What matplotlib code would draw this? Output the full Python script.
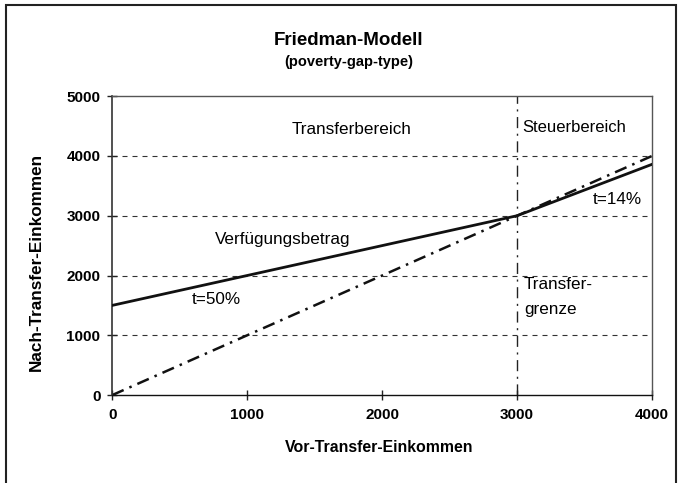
import matplotlib
matplotlib.use("Agg")
import matplotlib.pyplot as plt
from matplotlib.patches import Rectangle

plt.rcParams['font.family'] = ['Liberation Sans', 'DejaVu Sans']

# Data
vor_einkommen = [0, 3000, 4000]
verfuegung = [1500, 3000, 3860]
diag_x = [0, 4000]
diag_y = [0, 4000]
transfergrenze = 3000
x_ticks = [0, 1000, 2000, 3000, 4000]
y_ticks = [0, 1000, 2000, 3000, 4000, 5000]

fig = plt.figure(figsize=(6.8, 4.83), dpi=100)
ax = fig.add_axes([0.165, 0.182, 0.794, 0.619])

# outer border (bottom edge lies outside the visible area)
fig.patches.append(Rectangle((0.009, -0.05), 0.985, 1.04, transform=fig.transFigure,
                             fill=False, edgecolor='#222222', linewidth=1.5))

# grid lines
for yv in y_ticks[1:-1]:
    ax.axhline(yv, color='#333333', linestyle=(0, (4.5, 4.5)), linewidth=0.8, zorder=1)

ax.plot(diag_x, diag_y, color='#111111', linestyle=(0, (5, 2.5, 1, 2.5)), linewidth=1.8, zorder=2)
ax.axvline(transfergrenze, color='#222222', linestyle=(0, (8, 4, 1.5, 4)), linewidth=1.0, zorder=2)
ax.plot(vor_einkommen, verfuegung, color='#111111', linewidth=2.0, zorder=3)

ax.set_xlim(0, 4000)
ax.set_ylim(0, 5000)
ax.set_xticks(x_ticks)
ax.set_yticks(y_ticks)
ax.set_xticklabels([str(v) for v in x_ticks], fontweight='bold', fontsize=11)
ax.set_yticklabels([str(v) for v in y_ticks], fontweight='bold', fontsize=11)
ax.tick_params(axis='x', direction='inout', length=7, width=1, color='#222222', pad=6)
ax.tick_params(axis='y', direction='inout', length=7, width=1, color='#222222', pad=5)
for s in ax.spines.values():
    s.set_color('#555555')
    s.set_linewidth(1.0)
ax.spines['bottom'].set_color('#111111')
ax.spines['left'].set_color('#333333')
ax.spines['left'].set_linewidth(1.2)

fig.text(0.513, 0.917, 'Friedman-Modell', ha='center', va='center', fontsize=13.5, fontweight='bold')
fig.text(0.513, 0.871, '(poverty-gap-type)', ha='center', va='center', fontsize=10.5, fontweight='bold')

fig.text(0.558, 0.074, 'Vor-Transfer-Einkommen', ha='center', va='center', fontsize=11.4, fontweight='bold')
fig.text(0.054, 0.458, 'Nach-Transfer-Einkommen', ha='center', va='center', fontsize=12.3,
         fontweight='bold', rotation=90)

ax.text(1770, 4446, 'Transferbereich', ha='center', va='center', fontsize=12.3)
ax.text(3037, 4480, 'Steuerbereich', ha='left', va='center', fontsize=12.0)
ax.text(763, 2600, 'Verfügungsbetrag', ha='left', va='center', fontsize=12.3)
ax.text(593, 1594, 't=50%', ha='left', va='center', fontsize=12.3)
ax.text(3926, 3263, 't=14%', ha='right', va='center', fontsize=12.3)
ax.text(3050, 1846, 'Transfer-', ha='left', va='center', fontsize=12.3)
ax.text(3050, 1426, 'grenze', ha='left', va='center', fontsize=12.3)

fig.savefig('out.png', dpi=100)
